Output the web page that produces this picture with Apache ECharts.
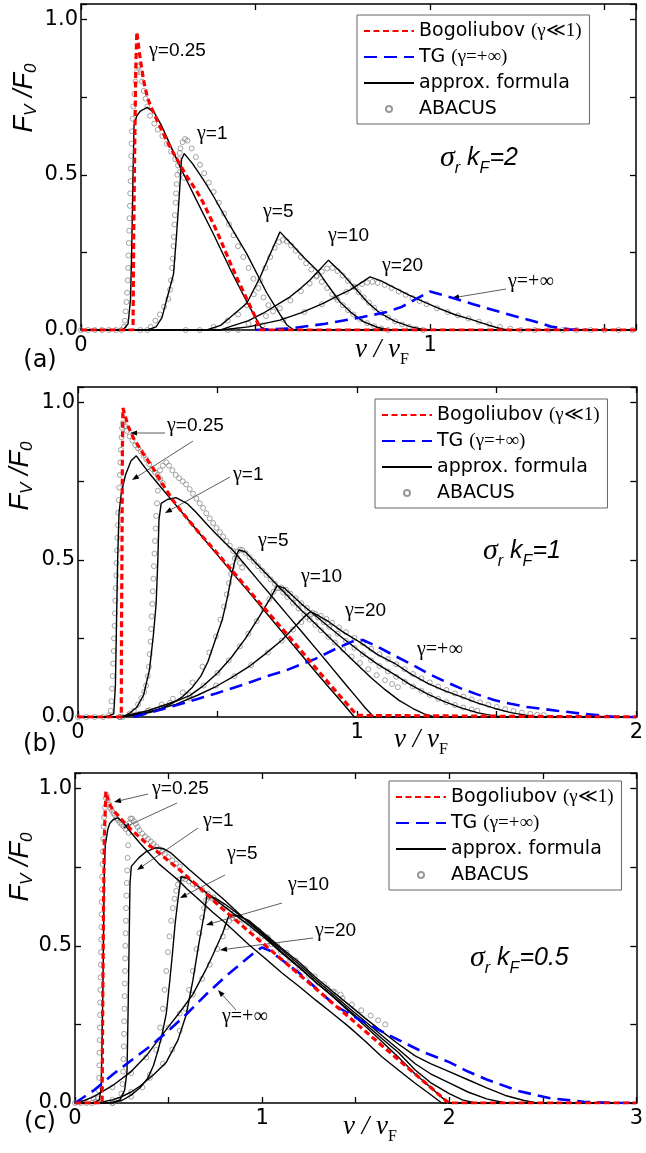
<!DOCTYPE html>
<html><head><meta charset="utf-8">
<script src="https://cdn.jsdelivr.net/npm/echarts@6/dist/echarts.min.js"></script>
<style>html,body{margin:0;padding:0;background:#fff}#c{width:646px;height:1153px}</style>
</head><body><div id="c"></div>
<script>
// ---------- tick labels ----------
const xTickLabelsA = ['0','1'];
const xTickLabelsB = ['0','1','2'];
const xTickLabelsC = ['0','1','2','3'];
const yTickLabels = ['0.0','0.5','1.0'];
const legendNames = ['Bogoliubov (γ≪1)','TG (γ=+∞)','approx. formula','ABACUS'];

// ---------- panel (a): sigma_r k_F = 2 ----------
const a_bog = [[0,0],[0.149,0],[0.151,0.3],[0.154,0.6],[0.157,0.85],[0.16,0.96],[0.17,0.87],[0.18,0.80],[0.19,0.75],[0.2,0.72],[0.22,0.67],[0.25,0.60],[0.28,0.54],[0.3,0.50],[0.33,0.45],[0.35,0.41],[0.38,0.34],[0.4,0.29],[0.43,0.21],[0.45,0.16],[0.475,0.10],[0.5,0.04],[0.513,0],[1.59,0]];
const a_tg = [[0.5,0],[0.6,0.005],[0.7,0.02],[0.8,0.04],[0.876,0.058],[0.92,0.075],[0.96,0.1],[1.0,0.124],[1.05,0.108],[1.124,0.083],[1.2,0.058],[1.258,0.04],[1.3,0.027],[1.35,0.01],[1.4,0.002],[1.45,0]];
const a_g025 = [[0,0],[0.12,0],[0.135,0.02],[0.142,0.1],[0.146,0.3],[0.149,0.5],[0.152,0.66],[0.16,0.69],[0.17,0.705],[0.19,0.717],[0.21,0.70],[0.23,0.66],[0.25,0.61],[0.284,0.525],[0.33,0.42],[0.379,0.31],[0.43,0.19],[0.48,0.08],[0.515,0.01],[0.53,0],[1.59,0]];
const a_g1 = [[0,0],[0.19,0],[0.215,0.01],[0.232,0.04],[0.245,0.096],[0.265,0.18],[0.274,0.31],[0.282,0.44],[0.288,0.55],[0.296,0.568],[0.32,0.535],[0.35,0.485],[0.38,0.43],[0.42,0.35],[0.475,0.245],[0.532,0.12],[0.57,0.05],[0.59,0.016],[0.61,0],[1.59,0]];
const a_g5 = [[0,0],[0.36,0],[0.4,0.015],[0.427,0.04],[0.475,0.086],[0.513,0.17],[0.542,0.245],[0.57,0.316],[0.6,0.28],[0.64,0.232],[0.68,0.188],[0.71,0.14],[0.742,0.09],[0.775,0.055],[0.809,0.027],[0.85,0.008],[0.885,0],[1.59,0]];
const a_g10 = [[0,0],[0.4,0],[0.427,0.011],[0.48,0.03],[0.522,0.054],[0.56,0.08],[0.599,0.107],[0.63,0.135],[0.656,0.161],[0.68,0.19],[0.709,0.225],[0.75,0.18],[0.79,0.129],[0.82,0.09],[0.857,0.054],[0.9,0.028],[0.943,0.011],[0.98,0.002],[1.0,0],[1.59,0]];
const a_g20 = [[0,0],[0.4,0],[0.48,0.01],[0.57,0.032],[0.63,0.055],[0.694,0.086],[0.735,0.11],[0.771,0.129],[0.8,0.15],[0.828,0.171],[0.86,0.158],[0.9,0.135],[0.94,0.112],[0.971,0.096],[1.02,0.072],[1.07,0.05],[1.115,0.035],[1.15,0.022],[1.19,0.008],[1.22,0],[1.59,0]];
const a_ab025 = [[0,0],[0.02,0],[0.04,0],[0.06,0],[0.08,0],[0.1,0],[0.115,0],[0.123,0.01],[0.126,0.03],[0.128,0.06],[0.13,0.09],[0.132,0.12],[0.134,0.16],[0.135,0.2],[0.136,0.24],[0.137,0.28],[0.138,0.32],[0.139,0.36],[0.14,0.4],[0.141,0.44],[0.142,0.48],[0.143,0.52],[0.144,0.56],[0.145,0.6],[0.146,0.64],[0.148,0.68],[0.15,0.72],[0.153,0.76],[0.156,0.8],[0.16,0.83],[0.164,0.848],[0.167,0.852],[0.171,0.83],[0.175,0.80],[0.18,0.77],[0.185,0.745],[0.19,0.72],[0.198,0.69],[0.21,0.665],[0.22,0.645],[0.233,0.625],[0.246,0.6],[0.258,0.575],[0.27,0.55],[0.284,0.51],[0.295,0.49]];
const a_ab1 = [[0.17,0],[0.19,0],[0.2,0.01],[0.213,0.03],[0.226,0.05],[0.238,0.075],[0.25,0.10],[0.255,0.13],[0.258,0.16],[0.261,0.2],[0.263,0.23],[0.265,0.27],[0.266,0.3],[0.268,0.34],[0.269,0.37],[0.271,0.41],[0.272,0.44],[0.274,0.47],[0.276,0.5],[0.278,0.53],[0.28,0.55],[0.283,0.57],[0.285,0.585],[0.291,0.605],[0.298,0.615],[0.305,0.61],[0.317,0.585],[0.329,0.557],[0.341,0.532],[0.353,0.505],[0.366,0.475],[0.38,0.445],[0.395,0.41],[0.41,0.375],[0.424,0.34],[0.437,0.305],[0.45,0.27],[0.465,0.235],[0.48,0.2],[0.494,0.165],[0.508,0.135],[0.523,0.105],[0.537,0.08],[0.55,0.06]];
const a_ab5 = [[0.3,0],[0.34,0],[0.38,0.01],[0.42,0.03],[0.45,0.05],[0.475,0.08],[0.495,0.115],[0.513,0.16],[0.528,0.2],[0.542,0.235],[0.555,0.265],[0.567,0.283],[0.578,0.29],[0.59,0.285],[0.602,0.272],[0.615,0.255],[0.63,0.235],[0.645,0.215],[0.66,0.195],[0.675,0.175],[0.69,0.155],[0.705,0.135],[0.72,0.115],[0.735,0.097],[0.75,0.08],[0.765,0.064],[0.78,0.05],[0.8,0.035],[0.82,0.022],[0.84,0.012],[0.86,0.005],[0.88,0]];
const a_ab10 = [[0.42,0],[0.48,0.02],[0.53,0.045],[0.57,0.07],[0.6,0.095],[0.63,0.125],[0.655,0.15],[0.675,0.172],[0.69,0.188],[0.705,0.198],[0.72,0.2],[0.735,0.19],[0.75,0.175],[0.765,0.158],[0.78,0.14],[0.795,0.122],[0.81,0.105],[0.825,0.088],[0.84,0.072],[0.86,0.055],[0.88,0.04],[0.9,0.028],[0.92,0.018],[0.94,0.01],[0.96,0.004],[0.98,0]];
const a_ab20 = [[0.45,0],[0.52,0.015],[0.58,0.033],[0.64,0.058],[0.69,0.083],[0.73,0.105],[0.76,0.123],[0.785,0.138],[0.805,0.148],[0.82,0.153],[0.835,0.155],[0.85,0.152],[0.87,0.145],[0.89,0.135],[0.91,0.124],[0.93,0.113],[0.95,0.103],[0.97,0.093],[0.99,0.083],[1.02,0.07],[1.05,0.058],[1.08,0.047],[1.11,0.037],[1.14,0.027],[1.17,0.018],[1.2,0.01],[1.23,0.004],[1.26,0],[1.3,0],[1.34,0],[1.38,0],[1.42,0],[1.46,0],[1.5,0],[1.54,0],[1.58,0]];

// ---------- panel (b): sigma_r k_F = 1 ----------
const b_bog = [[0,0],[0.155,0],[0.156,0.3],[0.158,0.6],[0.159,0.85],[0.161,0.983],[0.17,0.955],[0.18,0.925],[0.2,0.885],[0.232,0.84],[0.27,0.79],[0.3,0.745],[0.34,0.69],[0.375,0.649],[0.43,0.59],[0.494,0.526],[0.55,0.468],[0.6,0.416],[0.65,0.364],[0.7,0.313],[0.75,0.262],[0.8,0.21],[0.85,0.158],[0.9,0.106],[0.95,0.055],[1.0,0.005],[1.005,0],[2,0]];
const b_tg = [[0.2,0],[0.316,0.028],[0.4,0.05],[0.494,0.075],[0.6,0.105],[0.672,0.128],[0.75,0.15],[0.85,0.185],[0.93,0.22],[0.99,0.243],[1.02,0.245],[1.07,0.225],[1.134,0.195],[1.2,0.165],[1.253,0.139],[1.31,0.115],[1.371,0.091],[1.43,0.072],[1.49,0.054],[1.55,0.042],[1.609,0.032],[1.715,0.02],[1.81,0.01],[1.93,0],[2,0]];
const b_g025 = [[0,0],[0.10,0],[0.128,0.01],[0.134,0.1],[0.138,0.3],[0.142,0.5],[0.147,0.65],[0.155,0.712],[0.17,0.77],[0.19,0.815],[0.209,0.831],[0.23,0.805],[0.256,0.775],[0.3,0.728],[0.35,0.675],[0.4,0.622],[0.45,0.568],[0.5,0.515],[0.55,0.462],[0.6,0.41],[0.65,0.357],[0.7,0.304],[0.75,0.251],[0.8,0.198],[0.85,0.145],[0.9,0.093],[0.95,0.042],[0.99,0],[2,0]];
const b_g1 = [[0,0],[0.16,0],[0.185,0.012],[0.21,0.03],[0.235,0.07],[0.256,0.15],[0.27,0.26],[0.28,0.362],[0.286,0.5],[0.29,0.627],[0.298,0.68],[0.32,0.692],[0.351,0.698],[0.39,0.68],[0.422,0.652],[0.46,0.615],[0.494,0.583],[0.525,0.555],[0.553,0.532],[0.6,0.483],[0.65,0.43],[0.7,0.378],[0.75,0.325],[0.8,0.273],[0.85,0.22],[0.897,0.17],[0.95,0.113],[1.0,0.06],[1.03,0.028],[1.06,0],[2,0]];
const b_g5 = [[0,0],[0.15,0],[0.2,0.005],[0.26,0.015],[0.3,0.028],[0.34,0.045],[0.375,0.065],[0.41,0.095],[0.44,0.13],[0.465,0.175],[0.49,0.24],[0.517,0.31],[0.535,0.38],[0.548,0.44],[0.56,0.49],[0.57,0.52],[0.577,0.532],[0.6,0.525],[0.65,0.478],[0.7,0.432],[0.75,0.386],[0.8,0.34],[0.85,0.297],[0.897,0.256],[0.95,0.21],[1.0,0.167],[1.05,0.125],[1.1,0.087],[1.15,0.053],[1.2,0.027],[1.24,0.01],[1.276,0],[2,0]];
const b_g10 = [[0,0],[0.15,0],[0.25,0.02],[0.35,0.05],[0.4,0.068],[0.45,0.1],[0.5,0.14],[0.55,0.19],[0.6,0.25],[0.65,0.32],[0.69,0.38],[0.713,0.417],[0.74,0.41],[0.8,0.36],[0.85,0.323],[0.897,0.288],[0.95,0.25],[1.015,0.205],[1.07,0.17],[1.134,0.135],[1.19,0.103],[1.253,0.073],[1.31,0.05],[1.37,0.03],[1.43,0.014],[1.48,0.005],[1.52,0],[2,0]];
const b_g20 = [[0,0],[0.15,0],[0.25,0.015],[0.35,0.04],[0.43,0.07],[0.494,0.097],[0.55,0.125],[0.612,0.16],[0.67,0.2],[0.731,0.245],[0.78,0.29],[0.81,0.318],[0.832,0.335],[0.86,0.323],[0.897,0.304],[0.95,0.27],[1.015,0.235],[1.07,0.2],[1.134,0.171],[1.19,0.138],[1.253,0.107],[1.31,0.085],[1.371,0.065],[1.43,0.045],[1.49,0.028],[1.55,0.014],[1.609,0.005],[1.64,0],[2,0]];
const b_ab025 = [[0,0],[0.03,0],[0.06,0],[0.09,0],[0.11,0.005],[0.117,0.02],[0.12,0.05],[0.122,0.09],[0.124,0.13],[0.126,0.17],[0.128,0.21],[0.129,0.25],[0.131,0.29],[0.132,0.33],[0.134,0.37],[0.135,0.41],[0.137,0.45],[0.138,0.49],[0.14,0.53],[0.141,0.57],[0.143,0.61],[0.144,0.65],[0.146,0.69],[0.148,0.73],[0.15,0.77],[0.152,0.81],[0.154,0.85],[0.156,0.89],[0.158,0.92],[0.161,0.935],[0.168,0.925],[0.175,0.91],[0.185,0.893],[0.195,0.88],[0.205,0.865],[0.215,0.855],[0.225,0.845],[0.235,0.832],[0.245,0.82],[0.255,0.805],[0.265,0.79],[0.275,0.78],[0.285,0.77],[0.295,0.757],[0.304,0.744]];
const b_ab1 = [[0.16,0],[0.185,0.01],[0.2,0.02],[0.215,0.04],[0.227,0.06],[0.237,0.08],[0.244,0.1],[0.25,0.13],[0.254,0.16],[0.257,0.2],[0.26,0.24],[0.262,0.28],[0.264,0.32],[0.266,0.36],[0.268,0.4],[0.27,0.44],[0.272,0.48],[0.274,0.52],[0.276,0.56],[0.278,0.6],[0.28,0.64],[0.283,0.68],[0.286,0.72],[0.289,0.76],[0.294,0.785],[0.304,0.8],[0.316,0.81],[0.326,0.8],[0.338,0.785],[0.35,0.77],[0.362,0.76],[0.375,0.75],[0.387,0.74],[0.4,0.725],[0.412,0.71],[0.424,0.695],[0.436,0.68],[0.448,0.665],[0.46,0.648],[0.472,0.632],[0.484,0.617],[0.496,0.602],[0.508,0.588],[0.52,0.574],[0.532,0.56],[0.544,0.545],[0.556,0.528],[0.568,0.51],[0.58,0.49],[0.588,0.475]];
const b_ab5 = [[0.15,0],[0.22,0.01],[0.256,0.022],[0.3,0.04],[0.34,0.058],[0.375,0.078],[0.41,0.11],[0.446,0.16],[0.47,0.205],[0.494,0.256],[0.51,0.31],[0.523,0.351],[0.533,0.39],[0.541,0.426],[0.548,0.455],[0.553,0.479],[0.562,0.505],[0.571,0.527],[0.58,0.533],[0.588,0.532],[0.6,0.522],[0.615,0.508],[0.63,0.495],[0.645,0.48],[0.66,0.466],[0.675,0.452],[0.69,0.438],[0.705,0.424],[0.72,0.41],[0.735,0.396],[0.75,0.382],[0.77,0.363],[0.79,0.345],[0.81,0.327],[0.83,0.31],[0.85,0.293],[0.87,0.276],[0.897,0.255],[0.92,0.237],[0.95,0.215],[0.98,0.192],[1.01,0.172],[1.04,0.152],[1.07,0.133],[1.1,0.117],[1.125,0.105],[1.146,0.095]];
const b_ab10 = [[0.15,0],[0.25,0.02],[0.33,0.045],[0.4,0.07],[0.45,0.1],[0.5,0.14],[0.54,0.18],[0.58,0.225],[0.61,0.265],[0.64,0.305],[0.665,0.345],[0.685,0.375],[0.7,0.398],[0.713,0.41],[0.728,0.412],[0.745,0.405],[0.76,0.393],[0.78,0.378],[0.8,0.362],[0.82,0.347],[0.84,0.332],[0.86,0.317],[0.88,0.302],[0.9,0.287],[0.93,0.265],[0.96,0.242],[0.99,0.22],[1.02,0.2],[1.05,0.18],[1.08,0.162],[1.11,0.145],[1.14,0.128],[1.17,0.112],[1.2,0.097],[1.23,0.083],[1.26,0.07],[1.29,0.058],[1.32,0.047],[1.35,0.038],[1.38,0.03],[1.41,0.024],[1.43,0.02]];
const b_ab20 = [[0.15,0],[0.3,0.03],[0.4,0.06],[0.494,0.1],[0.56,0.13],[0.62,0.165],[0.68,0.205],[0.73,0.243],[0.77,0.278],[0.8,0.302],[0.82,0.318],[0.835,0.327],[0.85,0.328],[0.87,0.322],[0.89,0.312],[0.91,0.3],[0.935,0.285],[0.96,0.27],[0.99,0.252],[1.02,0.235],[1.05,0.217],[1.08,0.2],[1.11,0.184],[1.14,0.168],[1.17,0.152],[1.2,0.137],[1.23,0.123],[1.26,0.11],[1.29,0.097],[1.32,0.086],[1.35,0.075],[1.38,0.065],[1.41,0.056],[1.44,0.047],[1.47,0.039],[1.5,0.032],[1.53,0.025],[1.56,0.019],[1.59,0.014],[1.62,0.01],[1.645,0.007],[1.668,0.006]];

// ---------- panel (c): sigma_r k_F = 0.5 ----------
const c_bog = [[0,0],[0.145,0],[0.148,0.3],[0.152,0.6],[0.157,0.85],[0.165,0.991],[0.18,0.955],[0.2,0.935],[0.222,0.92],[0.26,0.895],[0.3,0.87],[0.381,0.827],[0.47,0.785],[0.559,0.742],[0.67,0.683],[0.771,0.627],[0.88,0.571],[0.984,0.518],[1.108,0.455],[1.2,0.408],[1.285,0.365],[1.38,0.316],[1.463,0.274],[1.55,0.229],[1.64,0.183],[1.73,0.137],[1.818,0.092],[1.9,0.05],[1.977,0.01],[2.0,0],[3,0]];
const c_tg = [[0,0],[0.1,0.04],[0.2,0.09],[0.3,0.135],[0.4,0.18],[0.5,0.23],[0.6,0.285],[0.7,0.345],[0.8,0.40],[0.9,0.45],[0.97,0.485],[1.0,0.495],[1.04,0.485],[1.2,0.413],[1.39,0.31],[1.52,0.265],[1.68,0.215],[1.85,0.165],[2.0,0.13],[2.1,0.1],[2.2,0.075],[2.37,0.038],[2.54,0.015],[2.72,0.004],[2.9,0],[3,0]];
const c_g025 = [[0,0],[0.1,0],[0.13,0.01],[0.14,0.05],[0.145,0.2],[0.15,0.4],[0.154,0.6],[0.157,0.75],[0.162,0.82],[0.175,0.87],[0.186,0.89],[0.205,0.902],[0.23,0.907],[0.26,0.89],[0.3,0.86],[0.35,0.825],[0.4,0.792],[0.45,0.76],[0.5,0.735],[0.55,0.71],[0.6,0.68],[0.665,0.646],[0.736,0.607],[0.8,0.575],[0.931,0.503],[1.02,0.458],[1.108,0.413],[1.2,0.37],[1.285,0.328],[1.38,0.283],[1.463,0.243],[1.55,0.197],[1.64,0.147],[1.73,0.104],[1.818,0.063],[1.9,0.027],[1.96,0],[3,0]];
const c_g1 = [[0,0],[0.2,0],[0.24,0.01],[0.265,0.04],[0.278,0.1],[0.284,0.3],[0.289,0.5],[0.294,0.7],[0.301,0.753],[0.34,0.78],[0.381,0.8],[0.43,0.812],[0.47,0.81],[0.51,0.797],[0.56,0.77],[0.612,0.742],[0.7,0.697],[0.8,0.645],[0.931,0.572],[1.02,0.527],[1.1,0.483],[1.2,0.432],[1.285,0.385],[1.38,0.337],[1.463,0.292],[1.55,0.245],[1.64,0.196],[1.73,0.145],[1.818,0.092],[1.9,0.05],[1.96,0.018],[2.0,0],[3,0]];
const c_g5 = [[0,0],[0.18,0],[0.25,0.008],[0.3,0.025],[0.35,0.05],[0.39,0.08],[0.42,0.12],[0.445,0.17],[0.466,0.22],[0.488,0.285],[0.505,0.38],[0.52,0.47],[0.535,0.57],[0.55,0.646],[0.567,0.72],[0.6,0.715],[0.65,0.693],[0.7,0.67],[0.8,0.624],[0.931,0.565],[1.02,0.522],[1.1,0.48],[1.2,0.43],[1.285,0.385],[1.38,0.339],[1.463,0.296],[1.55,0.252],[1.64,0.205],[1.73,0.16],[1.818,0.105],[1.9,0.065],[2.0,0.03],[2.07,0.01],[2.14,0],[3,0]];
const c_g10 = [[0,0],[0.12,0],[0.2,0.01],[0.25,0.02],[0.3,0.035],[0.35,0.055],[0.42,0.09],[0.488,0.13],[0.55,0.2],[0.594,0.28],[0.63,0.39],[0.66,0.5],[0.69,0.6],[0.705,0.66],[0.75,0.652],[0.8,0.633],[0.931,0.575],[1.02,0.53],[1.1,0.49],[1.2,0.44],[1.285,0.393],[1.38,0.345],[1.463,0.303],[1.55,0.26],[1.64,0.215],[1.73,0.17],[1.818,0.125],[1.9,0.093],[2.0,0.064],[2.1,0.035],[2.2,0.013],[2.3,0],[3,0]];
const c_g20 = [[0,0],[0.05,0.008],[0.1,0.02],[0.2,0.055],[0.3,0.1],[0.381,0.15],[0.45,0.205],[0.5,0.243],[0.559,0.288],[0.629,0.345],[0.7,0.425],[0.736,0.47],[0.789,0.54],[0.824,0.599],[0.87,0.596],[0.931,0.58],[1.02,0.535],[1.1,0.495],[1.2,0.447],[1.285,0.4],[1.38,0.353],[1.463,0.313],[1.55,0.27],[1.64,0.228],[1.73,0.187],[1.818,0.15],[1.9,0.125],[2.0,0.1],[2.1,0.074],[2.2,0.048],[2.3,0.024],[2.4,0.008],[2.47,0],[3,0]];
const c_ab025 = [[0,0],[0.03,0],[0.06,0],[0.09,0],[0.11,0.005],[0.122,0.015],[0.127,0.04],[0.129,0.08],[0.13,0.12],[0.131,0.16],[0.132,0.2],[0.133,0.24],[0.134,0.28],[0.135,0.32],[0.136,0.36],[0.137,0.4],[0.138,0.44],[0.139,0.48],[0.14,0.52],[0.141,0.56],[0.142,0.6],[0.143,0.64],[0.144,0.68],[0.145,0.72],[0.147,0.76],[0.149,0.8],[0.151,0.84],[0.153,0.88],[0.156,0.91],[0.16,0.94],[0.165,0.97],[0.17,0.98],[0.176,0.965],[0.183,0.95],[0.19,0.937],[0.198,0.93],[0.206,0.922],[0.214,0.915],[0.222,0.905],[0.23,0.9],[0.24,0.892],[0.25,0.886],[0.26,0.88],[0.27,0.872]];
const c_ab1 = [[0.2,0],[0.235,0.01],[0.248,0.03],[0.254,0.06],[0.257,0.1],[0.259,0.14],[0.261,0.18],[0.262,0.22],[0.263,0.26],[0.264,0.3],[0.265,0.34],[0.266,0.38],[0.267,0.42],[0.268,0.46],[0.269,0.5],[0.27,0.54],[0.272,0.58],[0.273,0.62],[0.275,0.66],[0.277,0.7],[0.279,0.74],[0.281,0.78],[0.284,0.82],[0.287,0.86],[0.29,0.89],[0.297,0.905],[0.305,0.905],[0.315,0.897],[0.325,0.888],[0.335,0.878],[0.345,0.868],[0.36,0.857],[0.375,0.848],[0.39,0.84],[0.405,0.832],[0.42,0.824],[0.435,0.816],[0.45,0.808],[0.465,0.8],[0.48,0.792],[0.5,0.782],[0.52,0.772],[0.54,0.762],[0.56,0.752]];
const c_ab5 = [[0.2,0],[0.3,0.02],[0.36,0.05],[0.4,0.09],[0.434,0.169],[0.455,0.24],[0.47,0.3],[0.479,0.36],[0.488,0.42],[0.497,0.48],[0.505,0.53],[0.514,0.58],[0.523,0.62],[0.532,0.65],[0.541,0.675],[0.55,0.695],[0.559,0.71],[0.575,0.715],[0.59,0.712],[0.61,0.705],[0.63,0.697],[0.65,0.69],[0.68,0.678],[0.71,0.666],[0.74,0.654]];
const c_ab10 = [[0.2,0.01],[0.3,0.035],[0.4,0.08],[0.47,0.125],[0.52,0.17],[0.56,0.23],[0.59,0.3],[0.61,0.36],[0.63,0.42],[0.65,0.49],[0.665,0.54],[0.68,0.59],[0.69,0.62],[0.7,0.645],[0.715,0.655],[0.73,0.652],[0.76,0.64],[0.8,0.625],[0.85,0.603],[0.9,0.58],[0.95,0.556],[1.0,0.53],[1.05,0.505],[1.1,0.48],[1.15,0.455],[1.2,0.43],[1.25,0.405],[1.3,0.383],[1.35,0.365],[1.39,0.352],[1.42,0.345]];
const c_ab20 = [[0.1,0.015],[0.2,0.05],[0.3,0.095],[0.381,0.145],[0.45,0.2],[0.5,0.24],[0.56,0.285],[0.63,0.345],[0.68,0.395],[0.72,0.44],[0.76,0.49],[0.79,0.53],[0.81,0.56],[0.825,0.58],[0.84,0.588],[0.86,0.59],[0.89,0.585],[0.93,0.572],[0.98,0.55],[1.03,0.527],[1.08,0.503],[1.13,0.478],[1.18,0.453],[1.23,0.428],[1.28,0.403],[1.33,0.378],[1.38,0.355],[1.43,0.333],[1.48,0.313],[1.53,0.295],[1.58,0.278],[1.62,0.263],[1.658,0.25]];

// ---------- build chart ----------
const panels = [
  {xmax:1.59, xl:xTickLabelsA, bog:a_bog, tg:a_tg, fit:[a_g025,a_g1,a_g5,a_g10,a_g20], ab:[a_ab025,a_ab1,a_ab5,a_ab10,a_ab20]},
  {xmax:2, xl:xTickLabelsB, bog:b_bog, tg:b_tg, fit:[b_g025,b_g1,b_g5,b_g10,b_g20], ab:[b_ab025,b_ab1,b_ab5,b_ab10,b_ab20]},
  {xmax:3, xl:xTickLabelsC, bog:c_bog, tg:c_tg, fit:[c_g025,c_g1,c_g5,c_g10,c_g20], ab:[c_ab025,c_ab1,c_ab5,c_ab10,c_ab20]}
];
const gridBoxes = [
  {left:81, top:4, width:555, height:326},
  {left:78, top:387, width:563, height:330},
  {left:75, top:773, width:564, height:330}
];
const legendPos = [[357,15],[375,399],[389,781]];

const RED = {color:'#ff0000', width:3.2, type:[6,3.5]};
const BLUE = {color:'#0000ff', width:2.6, type:[13,7]};
const BLACK = {color:'#000000', width:1.4, type:'solid'};

const axisLineS = {show:true, onZero:false, lineStyle:{color:'#000', width:1.5}};
const tickS = {show:true, inside:true, length:6, lineStyle:{color:'#000', width:1.3}};

const xAxes = [], yAxes = [], series = [];
panels.forEach((p, i) => {
  const xl = p.xl;
  const xbase = {type:'value', gridIndex:i, min:0, max:p.xmax, interval:0.5, axisLine:axisLineS, axisTick:tickS, splitLine:{show:false}};
  xAxes.push(Object.assign({}, xbase, {position:'bottom', axisLabel:{show:true, margin:5, fontSize:21, fontFamily:'DejaVu Sans', color:'#000',
    formatter: v => (xl.indexOf(String(v)) >= 0 ? String(v) : '')}}));
  xAxes.push(Object.assign({}, xbase, {position:'top', axisLabel:{show:false}}));
  const ybase = {type:'value', gridIndex:i, min:0, max:1.05, interval:0.25, axisLine:axisLineS, axisTick:tickS, splitLine:{show:false}};
  yAxes.push(Object.assign({}, ybase, {position:'left', axisLabel:{show:true, margin:3, fontSize:21, fontFamily:'DejaVu Sans', color:'#000',
    formatter: v => { const k = Math.round(v*2); return (Math.abs(v*2-k) < 1e-6 && k < yTickLabels.length) ? yTickLabels[k] : ''; }}}));
  yAxes.push(Object.assign({}, ybase, {position:'right', axisLabel:{show:false}}));

  const xi = 2*i, yi = 2*i;
  p.ab.forEach(d => series.push({type:'scatter', name:'ABACUS', xAxisIndex:xi, yAxisIndex:yi, data:d, symbol:'circle', symbolSize:5,
    itemStyle:{color:'rgba(255,255,255,0)', borderColor:'#808080', borderWidth:0.9}, z:2, silent:true}));
  p.fit.forEach(d => series.push({type:'line', name:'approx. formula', xAxisIndex:xi, yAxisIndex:yi, data:d, symbol:'none', showSymbol:false,
    lineStyle:BLACK, itemStyle:{color:'#000'}, z:3, silent:true}));
  series.push({type:'line', name:'TG (γ=+∞)', xAxisIndex:xi, yAxisIndex:yi, data:p.tg, symbol:'none', showSymbol:false,
    lineStyle:BLUE, itemStyle:{color:BLUE.color}, z:4, silent:true});
  series.push({type:'line', name:'Bogoliubov (γ≪1)', xAxisIndex:xi, yAxisIndex:yi, data:p.bog, symbol:'none', showSymbol:false,
    lineStyle:RED, itemStyle:{color:RED.color}, z:5, silent:true});
});

const legFmt = {};
legFmt[legendNames[0]] = '{t|Bogoliubov }{g|(γ≪1)}';
legFmt[legendNames[1]] = '{t|TG }{g|(γ=+∞)}';
legFmt[legendNames[2]] = '{t|approx. formula}';
legFmt[legendNames[3]] = '{t|ABACUS}';
const legendData = legendNames.map((n, k) => k < 3 ? {name:n, itemStyle:{opacity:0}} : {name:n});
const legends = legendPos.map(pos => ({
  orient:'vertical', left:pos[0], top:pos[1], padding:[6,8,5,6], itemWidth:50, itemHeight:6, itemGap:6,
  borderColor:'#666', borderWidth:1, backgroundColor:'#fff', selectedMode:false, data:legendData,
  formatter: n => legFmt[n],
  textStyle:{color:'#000', fontSize:19, fontFamily:'DejaVu Sans', lineHeight:20,
    rich:{t:{fontSize:19, fontFamily:'DejaVu Sans', lineHeight:20, color:'#000'},
          g:{fontSize:19, fontFamily:'Liberation Serif, DejaVu Serif', lineHeight:20, color:'#000'}}}
}));

// ---------- annotations ----------
const G = [];
function gLabel(x, y, t, size){
  G.push({type:'text', x:x, y:y, silent:true, style:{text:'{g|γ}{n|' + t + '}', align:'left', verticalAlign:'middle', fill:'#000',
    rich:{g:{fontSize:size+1, fontFamily:'Liberation Serif', fill:'#000'}, n:{fontSize:size, fontFamily:'Liberation Sans', fill:'#000'}}}});
}
function infLabel(x, y){
  G.push({type:'text', x:x, y:y, silent:true, style:{text:'γ=+∞', align:'left', verticalAlign:'middle', fill:'#000',
    fontSize:20, fontFamily:'Liberation Serif'}});
}
function arrow(x1, y1, x2, y2){
  const a = Math.atan2(y2-y1, x2-x1), L = 7, W = 2.6;
  const bx = x2 - L*Math.cos(a), by = y2 - L*Math.sin(a);
  const px = -Math.sin(a)*W, py = Math.cos(a)*W;
  G.push({type:'line', silent:true, shape:{x1:x1, y1:y1, x2:bx, y2:by}, style:{stroke:'#333', lineWidth:0.8}});
  G.push({type:'polygon', silent:true, shape:{points:[[x2,y2],[bx+px,by+py],[bx-px,by-py]]}, style:{fill:'#000'}});
}
function sigmaText(x, y, val){
  G.push({type:'text', x:x, y:y, silent:true, style:{text:'{s|σ}{r|r}{sp|}{k|k}{r|F}{k|=' + val + '}', align:'left', verticalAlign:'middle',
    rich:{s:{fontSize:30, fontFamily:'Liberation Serif', fontStyle:'italic', lineHeight:38, fill:'#000'},
          r:{fontSize:16, fontFamily:'Liberation Sans', fontStyle:'italic', lineHeight:16, verticalAlign:'bottom', fill:'#000'},
          sp:{width:7, lineHeight:38},
          k:{fontSize:25, fontFamily:'Liberation Sans', fontStyle:'italic', lineHeight:38, fill:'#000'}}}});
}
function yTitle(x, y){
  G.push({type:'text', x:x, y:y, rotation:Math.PI/2, silent:true, style:{text:'{F|F}{s|V}{F| /F}{s|0}', align:'center', verticalAlign:'middle',
    rich:{F:{fontSize:27, fontFamily:'Liberation Sans', fontStyle:'italic', lineHeight:32, fill:'#000'},
          s:{fontSize:17, fontFamily:'Liberation Sans', fontStyle:'italic', lineHeight:17, verticalAlign:'bottom', fill:'#000'}}}});
}
function xTitle(x, y){
  G.push({type:'text', x:x, y:y, silent:true, style:{text:'{v|ν / ν}{f|F}', align:'center', verticalAlign:'middle',
    rich:{v:{fontSize:27, fontFamily:'Liberation Serif', fontStyle:'italic', lineHeight:36, fill:'#000'},
          f:{fontSize:16, fontFamily:'Liberation Serif', lineHeight:16, verticalAlign:'bottom', fill:'#000'}}}});
}
function panelLabel(x, y, t){
  G.push({type:'text', x:x, y:y, silent:true, style:{text:t, align:'center', verticalAlign:'middle', fontSize:24, fontFamily:'DejaVu Sans', fill:'#000'}});
}

// panel (a)
gLabel(149, 51, '=0.25', 19); gLabel(197, 134, '=1', 19); gLabel(263, 212, '=5', 19);
gLabel(328, 236, '=10', 19); gLabel(382, 266, '=20', 19); infLabel(508, 282);
arrow(506, 289, 452, 298);
sigmaText(440, 158, '2'); yTitle(24, 98); xTitle(382, 350); panelLabel(40, 361, '(a)');
// panel (b)
gLabel(167, 426, '=0.25', 19); gLabel(233, 475, '=1', 19); gLabel(258, 541, '=5', 19);
gLabel(301, 577, '=10', 19); gLabel(345, 611, '=20', 19); infLabel(417, 650);
arrow(165, 433, 130, 433); arrow(193, 441, 132, 480); arrow(230, 477, 165, 513);
sigmaText(483, 551, '1'); yTitle(20, 476); xTitle(421, 740); panelLabel(40, 745, '(b)');
// panel (c)
gLabel(152, 789, '=0.25', 19); gLabel(203, 821, '=1', 19); gLabel(227, 854, '=5', 19);
gLabel(288, 885, '=10', 19); gLabel(315, 931, '=20', 19); infLabel(222, 1017);
arrow(148, 794, 114, 802); arrow(177, 803, 123, 828); arrow(198, 828, 137, 870);
arrow(225, 875, 180, 898); arrow(282, 903, 206, 925); arrow(313, 938, 220, 950); arrow(236, 1010, 218, 990);
sigmaText(470, 958, '0.5'); yTitle(20, 867); xTitle(370, 1127); panelLabel(40, 1123, '(c)');

const chart = echarts.init(document.getElementById('c'), null, {renderer:'canvas'});
chart.setOption({
  animation:false,
  backgroundColor:'#fff',
  grid: gridBoxes,
  xAxis: xAxes,
  yAxis: yAxes,
  legend: legends,
  series: series,
  graphic: G
});
</script></body></html>
